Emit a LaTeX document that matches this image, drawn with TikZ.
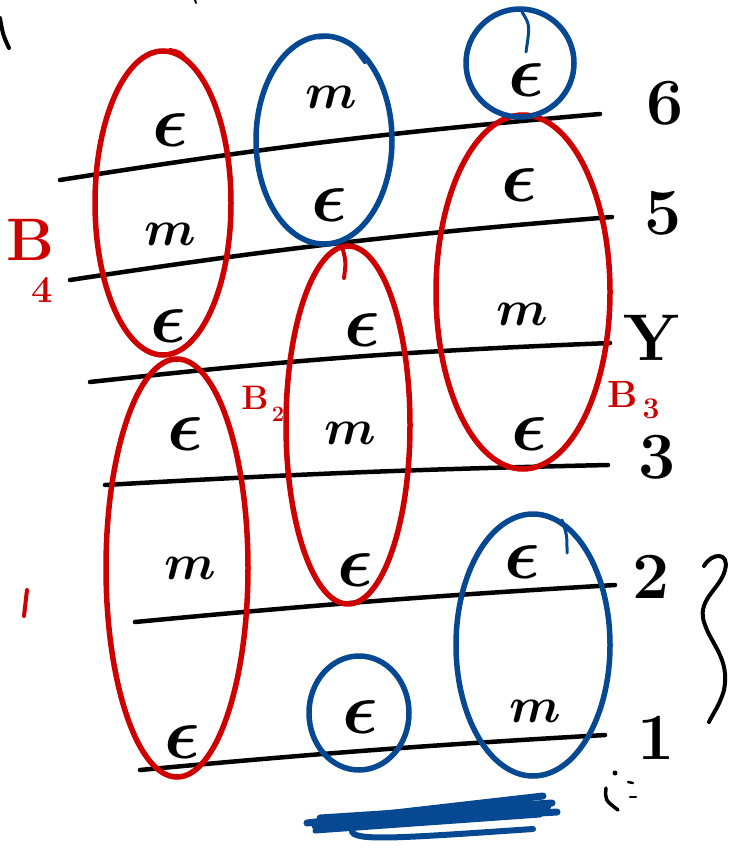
\RequirePackage{fix-cm}
\documentclass[tikz,border=0pt]{standalone}
\usepackage{amsmath,bm}
\definecolor{rcol}{RGB}{206,0,0}
\definecolor{bcol}{RGB}{6,72,145}
\tikzset{
  bline/.style={line width=4.5pt, line cap=round, black},
  rring/.style={draw=rcol, line width=5.5pt},
  bring/.style={draw=bcol, line width=5.5pt},
  rtick/.style={draw=rcol, line width=4pt, line cap=round},
  btick/.style={draw=bcol, line width=3pt, line cap=round},
  eps/.style={inner sep=0pt, font=\fontsize{74}{74}\selectfont},
  emm/.style={inner sep=0pt, font=\fontsize{50}{50}\selectfont},
  num/.style={inner sep=0pt, font=\fontsize{66}{66}\selectfont\bfseries},
  blab/.style={inner sep=0pt, text=rcol, font=\fontsize{60}{60}\selectfont\bfseries},
  blabs/.style={inner sep=0pt, text=rcol, font=\fontsize{38}{38}\selectfont\bfseries},
  pen/.style={line width=4pt, line cap=round, line join=round, black},
  scrib/.style={line width=7pt, line cap=round, bcol}
}
\newcommand{\Ep}{$\bm{\epsilon}$}
\newcommand{\Em}{$\bm{m}$}
\begin{document}
\begin{tikzpicture}[x=1pt,y=-1pt]
\useasboundingbox (0,0) rectangle (745,850);
% level lines
\coordinate (l6a) at (60,180); \coordinate (l6b) at (600,114);
\coordinate (l5a) at (70,280); \coordinate (l5b) at (612,217);
\coordinate (l4a) at (90,382); \coordinate (l4b) at (610,343);
\coordinate (l3a) at (105,485); \coordinate (l3b) at (608,465);
\coordinate (l2a) at (135,622); \coordinate (l2b) at (615,585);
\coordinate (l1a) at (140,770); \coordinate (l1b) at (605,735);
\draw[bline] (l6a) to[bend left=2] (l6b);
\draw[bline] (l5a) to[bend left=2] (l5b);
\draw[bline] (l4a) to[bend left=2] (l4b);
\draw[bline] (l3a) to[bend left=1] (l3b);
\draw[bline] (l2a) to[bend left=1] (l2b);
\draw[bline] (l1a) to[bend left=1] (l1b);
% level numbers
\node[num] (n6) at (665,103) {6};
\node[num] (n5) at (663,213) {5};
\node[num] (n4) at (652,338) {Y};
\node[num] (n3) at (657,457) {3};
\node[num] (n2) at (651,577) {2};
\node[num] (n1) at (656,738) {1};
% blocks (red)
\draw[rring] (163,203) ellipse [x radius=68, y radius=152];
\draw[rring] (523,292) ellipse [x radius=87, y radius=177];
\draw[rring] (348,425) ellipse [x radius=62, y radius=179];
\draw[rring] (177,568) ellipse [x radius=71, y radius=209];
% blue rings
\draw[bring] (324,140) ellipse [x radius=68, y radius=104];
\draw[bring] (520,63) ellipse [x radius=54, y radius=54];
\draw[bring] (359,713) ellipse [x radius=50, y radius=57];
\draw[bring] (533,645) ellipse [x radius=77, y radius=131];
% pen overlaps at tops
\draw[rtick] (170,50) .. controls (180,52) .. (188,62);
\draw[rtick] (343,250) .. controls (346,262) .. (344,278);
\draw[btick] (318,38) .. controls (345,36) .. (365,63);
\draw[btick] (522,12) .. controls (530,25) .. (526,52);
\draw[btick] (562,520) .. controls (567,535) .. (567,553);
% contents
\node[eps] (a1) at (170,130) {\Ep};
\node[emm] (a2) at (170,234) {\Em};
\node[eps] (a3) at (168,326) {\Ep};
\node[emm] (b1) at (331,97) {\Em};
\node[eps] (b2) at (329,205) {\Ep};
\node[eps] (c1) at (526,80) {\Ep};
\node[eps] (d1) at (519,185) {\Ep};
\node[emm] (d2) at (522,314) {\Em};
\node[eps] (d3) at (529,434) {\Ep};
\node[eps] (e1) at (362,330) {\Ep};
\node[emm] (e2) at (350,433) {\Em};
\node[eps] (e3) at (355,570) {\Ep};
\node[eps] (f1) at (185,434) {\Ep};
\node[emm] (f2) at (190,568) {\Em};
\node[eps] (f3) at (182,742) {\Ep};
\node[eps] (g1) at (360,717) {\Ep};
\node[eps] (h1) at (522,562) {\Ep};
\node[emm] (h2) at (535,711) {\Em};
% block labels
\node[blab] (B4) at (30,240) {B};
\node[blabs] (B4s) at (42,290) {4};
\node[inner sep=0pt, text=rcol, font=\fontsize{34}{34}\selectfont\bfseries] (B2) at (255,398) {B};
\node[inner sep=0pt, text=rcol, font=\fontsize{22}{22}\selectfont\bfseries] (B2s) at (278,414) {2};
\node[blabs] (B3) at (623,394) {B};
\node[inner sep=0pt, text=rcol, font=\fontsize{30}{30}\selectfont\bfseries] (B3s) at (651,409) {3};
% red tick
\draw[rtick] (27,590) -- (24,616);
% top-left fragments
\draw[pen] (0,18) .. controls (3,35) .. (9,48);
\draw[pen, line width=2pt] (195,0) -- (196,3);
% brace
\draw[pen] (704,566) .. controls (712,552) and (730,552) .. (725,570)
  .. controls (720,590) and (695,600) .. (705,625)
  .. controls (712,645) and (730,660) .. (724,690)
  .. controls (720,705) and (712,715) .. (709,722);
% smiley
\fill (615,773) circle (2.5);
\draw[pen, line width=2.5pt] (628,782) -- (633,783);
\draw[pen, line width=2.5pt] (630,797) -- (636,797);
\draw[pen, line width=3.5pt] (606,788) .. controls (605,800) .. (618,810);
% blue scribble
\draw[scrib] (307,823) -- (543,796);
\draw[scrib] (320,818) -- (552,803);
\draw[scrib] (315,826) -- (557,812);
\draw[scrib] (340,822) -- (548,806);
\draw[scrib, line width=5pt] (315,831) -- (540,815);
\draw[scrib, line width=6pt] (352,830) .. controls (350,842) and (400,838) .. (533,829);
\end{tikzpicture}
\end{document}
